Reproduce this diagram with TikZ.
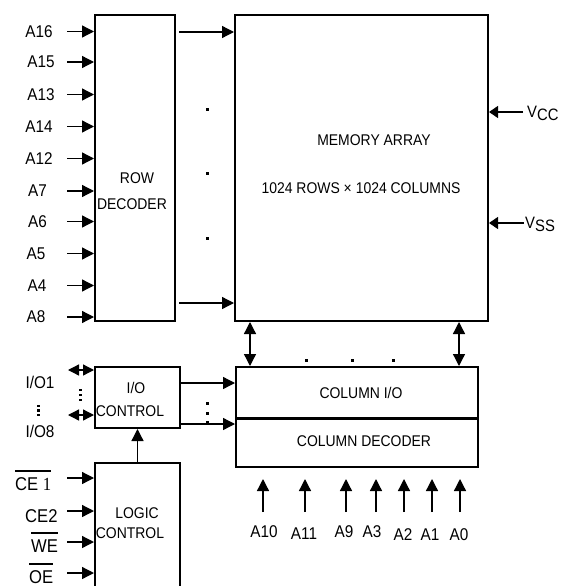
\documentclass[tikz,border=0pt]{standalone}
\usepackage{fontspec}
\setmainfont{Liberation Sans}[FakeStretch=0.9]
\newfontfamily\serifone{Liberation Serif}[FakeStretch=0.9]
\usetikzlibrary{arrows.meta}
\tikzset{
  box/.style={draw, line width=2pt, inner sep=0pt, rectangle},
  arr/.style={line width=1.3pt, -{Triangle[length=12pt,width=12pt]}},
  arrs/.style={line width=1.2pt, -{Triangle[length=9pt,width=12pt]}},
  darr/.style={line width=1.3pt, {Triangle[length=12pt,width=12pt]}-{Triangle[length=12pt,width=12pt]}},
  darrs/.style={line width=1.3pt, {Triangle[length=11pt,width=11pt]}-{Triangle[length=11pt,width=11pt]}},
  lab/.style={inner sep=0pt, font=\fontsize{17}{19}\selectfont},
  labb/.style={inner sep=0pt, font=\fontsize{18.5}{20}\selectfont},
  btxt/.style={inner sep=0pt, font=\fontsize{15.5}{17}\selectfont},
  ovl/.style={line width=1.3pt},
}
\begin{document}
\begin{tikzpicture}[x=1pt,y=-1pt]
\useasboundingbox (0,0) rectangle (567,586);
% boxes
\node[box, minimum width=80pt, minimum height=306pt] (rowdec) at (135,168) {};
\node[box, minimum width=253pt, minimum height=306pt] (mem) at (361.5,168) {};
\node[box, minimum width=242pt, minimum height=50.5pt] (colio) at (357,392.25) {};
\node[box, minimum width=242pt, minimum height=48.5pt] (coldec) at (357,442.75) {};
\node[box, minimum width=85pt, minimum height=61pt] (ioctl) at (137.5,397.5) {};
\node[box, minimum width=85pt, minimum height=150pt] (logic) at (137.5,538) {};
% box texts
\node[btxt] (trow) at (137,178) {ROW};
\node[btxt] (tdec) at (132,204) {DECODER};
\node[btxt] (tmem) at (374,140) {MEMORY ARRAY};
\node[btxt] (tsize) at (361,188) {1024 ROWS × 1024 COLUMNS};
\node[btxt] (tcolio) at (361,393) {COLUMN I/O};
\node[btxt] (tcoldec) at (364,441) {COLUMN DECODER};
\node[btxt] (tio) at (136,388) {I/O};
\node[btxt] (tioctl) at (130,411) {CONTROL};
\node[btxt] (tlogic) at (137,513) {LOGIC};
\node[btxt] (tlogctl) at (130,533) {CONTROL};
% row address inputs
\foreach \t/\y/\x in {A16/31.5/39, A15/62/41, A13/94.5/41, A14/126.5/39, A12/158.5/39, A7/191/37.5, A6/221.5/37.5, A5/253.5/36, A4/285.5/37, A8/317/36} {
  \node[lab] (l\t) at (\x,\y) {\t};
  \draw[arr] (67,\y) -- (rowdec.west |- 0,\y);
}
% row decoder to memory
\draw[arr] (179,32) -- (mem.west |- 0,32);
\draw[arr] (179,303) -- (mem.west |- 0,303);
\foreach \y in {109,173,238} \fill (205.5,\y-1.5) rectangle (208.5,\y+1.5);
% power
\draw[arrs] (523,112) -- (mem.east |- 0,112);
\draw[arrs] (524,223) -- (mem.east |- 0,223);
\node[inner sep=0pt, anchor=base west, font=\fontsize{16.5}{18}\selectfont] (vcc) at (527,117) {V\raisebox{-3pt}{CC}};
\node[inner sep=0pt, anchor=base west, font=\fontsize{16.5}{18}\selectfont] (vss) at (525,228) {V\raisebox{-3pt}{SS}};
% memory <-> column I/O
\draw[darr] (mem.south -| 250,0) -- (colio.north -| 250,0);
\draw[darr] (mem.south -| 459,0) -- (colio.north -| 459,0);
\foreach \x in {306,352,393} \fill (\x-1.5,358.5) rectangle (\x+1.5,361.5);
% column address inputs
\foreach \t/\x/\lx/\ly in {A10/263/264/532, A11/305/304/533.5, A9/346/344/532, A3/376/372/532, A2/404/403/535, A1/432/430/535, A0/460/459/535} {
  \node[lab] (c\t) at (\lx,\ly) {\t};
  \draw[arr] (\x,512) -- (\x,479);
}
% I/O
\draw[darrs] (68,370) -- (ioctl.west |- 0,370);
\draw[darrs] (68,415) -- (ioctl.west |- 0,415);
\foreach \y in {390,395,400} \fill (78.8,\y-1.2) rectangle (81.6,\y+1.2);
\node[lab] (lio1) at (40,382.5) {I/O1};
\node[lab] (lio8) at (40,431) {I/O8};
\foreach \y in {406,410.5,415} \fill (36.8,\y-1.2) rectangle (39.6,\y+1.2);
\draw[arr] (181,383) -- (colio.west |- 0,383);
\draw[arr] (181,424) -- (coldec.west |- 0,424);
\foreach \y in {403,413,422} \fill (205.5,\y-1.5) rectangle (208.5,\y+1.5);
% logic control
\draw[arr] (logic.north) -- (ioctl.south);
\node[labb, anchor=base west] (ce1) at (15,490) {CE {\serifone 1}};
\node[labb, anchor=base west] (ce2) at (25,522) {CE2};
\node[labb, anchor=base west] (we) at (31,552) {WE};
\node[labb, anchor=base west] (oe) at (29,583) {OE};
\draw[ovl] ([yshift=6pt]ce1.north west) -- ([yshift=6pt]ce1.north east);
\draw[ovl] ([yshift=6pt]we.north west) -- ([yshift=6pt]we.north east);
\draw[ovl] ([yshift=6pt]oe.north west) -- ([yshift=6pt]oe.north east);
\draw[arr] (67,478) -- (logic.west |- 0,478);
\draw[arr] (67,511) -- (logic.west |- 0,511);
\draw[arr] (67,542) -- (logic.west |- 0,542);
\draw[arr] (67,573) -- (logic.west |- 0,573);
\end{tikzpicture}
\end{document}
